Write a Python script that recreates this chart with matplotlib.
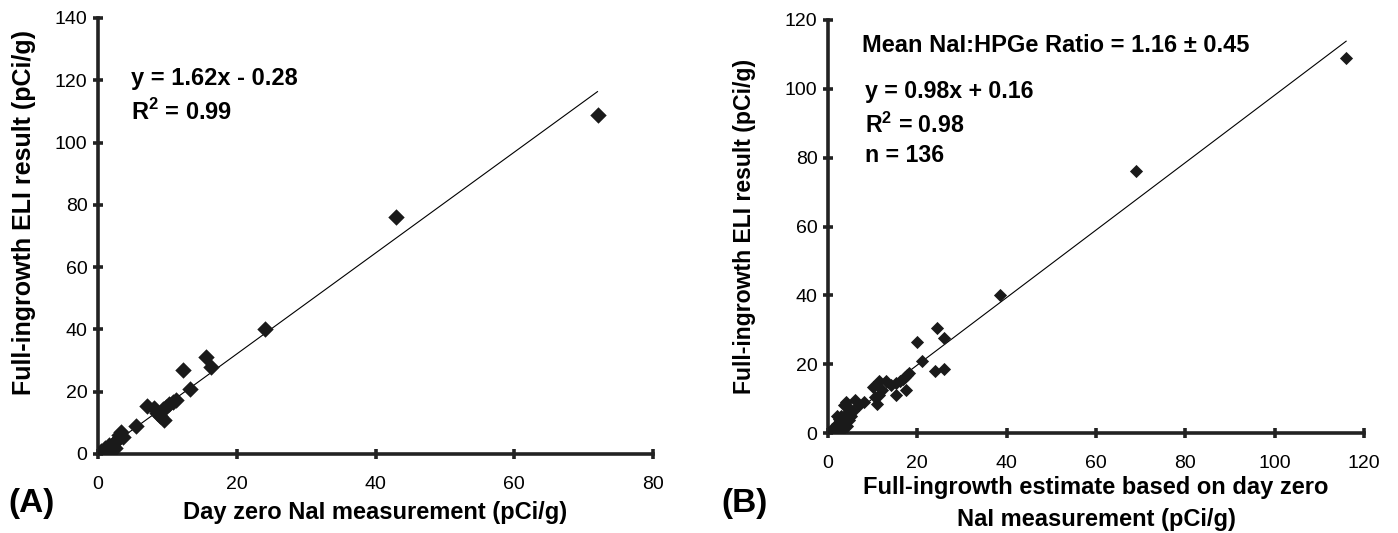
import numpy as np
import matplotlib
matplotlib.use("Agg")
from matplotlib import pyplot as plt

# panel A: day zero NaI vs full-ingrowth ELI
a_x = [72, 43, 24, 15.5, 16.3, 12.3, 13.3, 11.2, 10.8, 10.3, 9.8, 9.3,
       7.0, 8.0, 8.5, 9.0, 9.5, 5.5, 3.3, 3.0, 3.6, 2.6, 2.2, 2.0, 1.6,
       1.2, 0.9, 1.3, 2.4, 1.6, 0.6, 1.0, 2.8, 1.8, 0.5]
a_y = [109, 76, 40, 31, 28, 27, 21, 17.5, 16.8, 16, 15.2, 14.5,
       15.5, 14.8, 13.2, 12.2, 11, 9, 7, 6, 5.5, 4.2, 3.2, 2.2, 2.2,
       1.2, 0.6, 0.2, 1.8, 3.0, 0.3, 1.8, 4.5, 0.8, 1.0]
a_fit = (1.62, -0.28)
a_xticks = [0, 20, 40, 60, 80]
a_yticks = [0, 20, 40, 60, 80, 100, 120, 140]

# panel B: full-ingrowth estimate vs full-ingrowth ELI
b_x = [116, 69, 38.5, 24.5, 26, 20, 21, 24, 26, 18.2, 17.7, 17.2, 16.7,
       16.2, 15.2, 14.2, 17.5, 15.2, 13, 11.5, 10, 12.2, 11.5, 10.5, 11,
       8, 7, 6, 4, 3.5, 5, 4.5, 5.2, 4, 3, 2.5, 2, 3.6, 2, 1.5, 1, 3,
       4.2, 2.6, 3.6, 1.2, 2.2, 0.8, 4.6, 5.6]
b_y = [109, 76, 40, 30.5, 27.5, 26.5, 21, 18, 18.5, 17.5, 16.8, 16.2, 15.6,
       15, 14.5, 14, 12.5, 11, 15, 15, 13.5, 12.5, 11, 10.5, 8.5,
       9, 8, 9.5, 9, 8, 7, 6, 5, 4.5, 5, 4, 5, 3, 2.5, 1.5, 0.5, 1,
       2, 3.5, 1.5, 0.3, 0.8, 1.2, 3.8, 6.5]
b_fit = (0.98, 0.16)
b_ticks = [0, 20, 40, 60, 80, 100, 120]

plt.rcParams['font.family'] = ['Liberation Sans', 'DejaVu Sans']
plt.rcParams['mathtext.fontset'] = 'custom'
plt.rcParams['mathtext.bf'] = 'Liberation Sans:bold'
plt.rcParams['mathtext.rm'] = 'Liberation Sans'

fig = plt.figure(figsize=(13.98, 5.33), dpi=100)
axA = fig.add_axes([98/1398, 1-454/533, (653-98)/1398, (454-18)/533])
axB = fig.add_axes([828/1398, 1-433/533, (1364-828)/1398, (433-20)/533])


def style(ax):
    for s in ['top', 'right']:
        ax.spines[s].set_visible(False)
    for s in ['left', 'bottom']:
        ax.spines[s].set_linewidth(2.6)
        ax.spines[s].set_color('#222222')
    ax.tick_params(direction='inout', length=7, width=2.6, color='#222222',
                   labelsize=14)
    ax.tick_params(axis='x', pad=12)
    ax.tick_params(axis='y', pad=4)


bold = dict(fontsize=17, fontweight='bold')

# panel A
axA.scatter(a_x, a_y, marker='D', s=70, color='#1a1a1a', zorder=3, linewidths=0)
fx = np.array([0, 72])
axA.plot(fx, a_fit[0]*fx + a_fit[1], color='black', lw=0.8)
axA.set_xlim(0, 80)
axA.set_ylim(0, 140)
axA.set_xticks(a_xticks)
axA.set_yticks(a_yticks)
style(axA)
axA.set_xlabel('Day zero NaI measurement (pCi/g)', labelpad=6, **bold)
axA.set_ylabel('Full-ingrowth ELI result (pCi/g)', fontsize=18, fontweight='bold')
axA.yaxis.set_label_coords(-0.112, 0.553)
axA.text(0.06, 0.847, 'y = 1.62x - 0.28', transform=axA.transAxes, **bold)
axA.text(0.06, 0.766, r'R$^{\mathbf{2}}$ = 0.99', transform=axA.transAxes, **bold)
fig.text(0.006, 0.04, '(A)', fontsize=24, fontweight='bold')

# panel B
axB.scatter(b_x, b_y, marker='D', s=45, color='#1a1a1a', zorder=3, linewidths=0)
fx = np.array([0, 116])
axB.plot(fx, b_fit[0]*fx + b_fit[1], color='black', lw=0.8)
axB.set_xlim(0, 120)
axB.set_ylim(0, 120)
axB.set_xticks(b_ticks)
axB.set_yticks(b_ticks)
style(axB)
axB.set_xlabel('Full-ingrowth estimate based on day zero\nNaI measurement (pCi/g)',
               labelpad=3, linespacing=1.5, **bold)
axB.set_ylabel('Full-ingrowth ELI result (pCi/g)', fontsize=16.6, fontweight='bold')
axB.yaxis.set_label_coords(-0.135, 0.5)
axB.text(0.063, 0.922, 'Mean NaI:HPGe Ratio = 1.16 \u00b1 0.45', transform=axB.transAxes,
         fontsize=17, fontweight='bold')
axB.text(0.069, 0.81, 'y = 0.98x + 0.16', transform=axB.transAxes, fontsize=16.7,
         fontweight='bold')
axB.text(0.069, 0.727, r'R$^{\mathbf{2}}$ = 0.98', transform=axB.transAxes, fontsize=16.7,
         fontweight='bold')
axB.text(0.069, 0.657, 'n = 136', transform=axB.transAxes, fontsize=16.7, fontweight='bold')
fig.text(0.516, 0.04, '(B)', fontsize=24, fontweight='bold')

fig.savefig('out.png', dpi=100)
